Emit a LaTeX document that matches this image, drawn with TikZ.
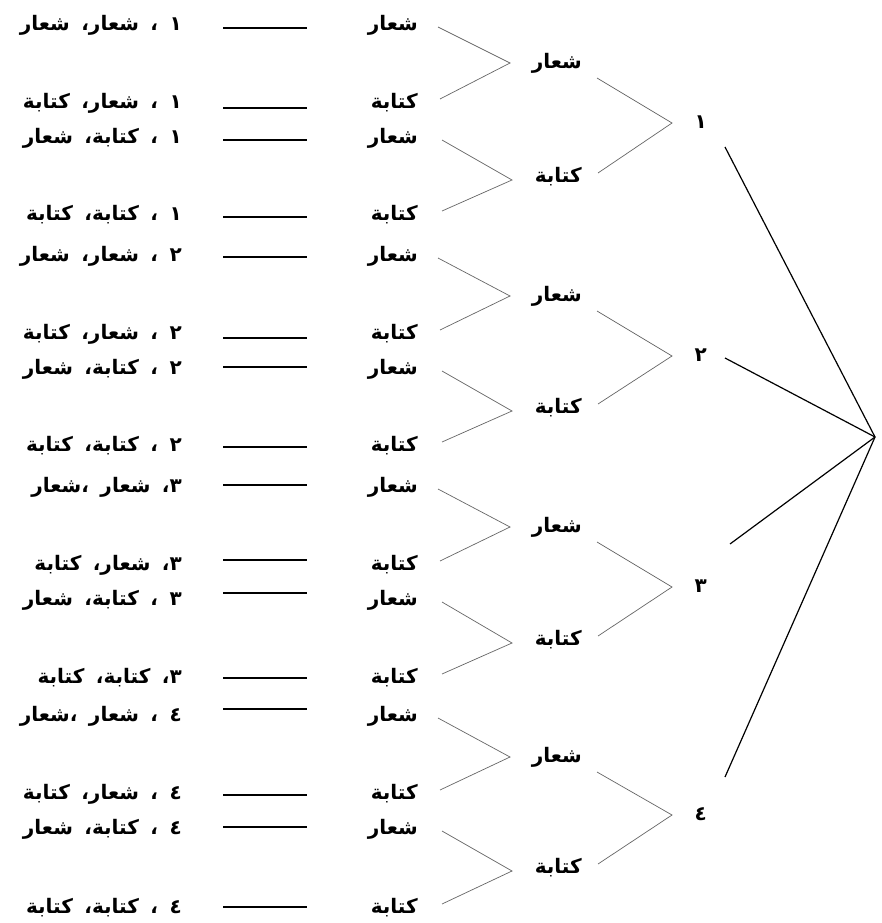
\documentclass[tikz,border=0pt]{standalone}
\usepackage{fontspec}
\TeXXeTstate=1
\newfontfamily\arabicfont[Script=Arabic]{DejaVu Sans}
\newcommand\rl[1]{\beginR #1\endR}
\newcommand\rlw[1]{\spaceskip=11.5pt\relax\beginR #1\endR}
\begin{document}
\begin{tikzpicture}[x=1pt,y=-1pt,
  ar/.style={font=\arabicfont\bfseries\fontsize{20}{24}\selectfont, inner sep=0pt, anchor=east},
  res/.style={ar},
  thinln/.style={draw=black!60, line width=0.7pt},
  thickln/.style={draw=black, line width=1.2pt}]
\useasboundingbox (0,0) rectangle (881,923);
\fill[white] (0,0) rectangle (881,923);
\coordinate (R) at (875,437);
% ---------- group 1
\node[ar] (L11) at (418,25)  {\rl{شعار}};
\node[ar] (L12) at (418,103) {\rl{كتابة}};
\node[ar] (L13) at (418,138) {\rl{شعار}};
\node[ar] (L14) at (418,215) {\rl{كتابة}};
\node[ar] (M11) at (582,63)  {\rl{شعار}};
\node[ar] (M12) at (582,177) {\rl{كتابة}};
\node[ar] (N1)  at (707,122) {\rl{١}};
\node[res] (T11) at (182,25)  {\rlw{١ ، شعار، شعار}};
\node[res] (T12) at (182,103) {\rlw{١ ، شعار، كتابة}};
\node[res] (T13) at (182,138) {\rlw{١ ، كتابة، شعار}};
\node[res] (T14) at (182,215) {\rlw{١ ، كتابة، كتابة}};
% ---------- group 2
\node[ar] (L21) at (418,256) {\rl{شعار}};
\node[ar] (L22) at (418,334) {\rl{كتابة}};
\node[ar] (L23) at (418,369) {\rl{شعار}};
\node[ar] (L24) at (418,446) {\rl{كتابة}};
\node[ar] (M21) at (582,296) {\rl{شعار}};
\node[ar] (M22) at (582,408) {\rl{كتابة}};
\node[ar] (N2)  at (707,355) {\rl{٢}};
\node[res] (T21) at (182,256) {\rlw{٢ ، شعار، شعار}};
\node[res] (T22) at (182,334) {\rlw{٢ ، شعار، كتابة}};
\node[res] (T23) at (182,369) {\rlw{٢ ، كتابة، شعار}};
\node[res] (T24) at (182,446) {\rlw{٢ ، كتابة، كتابة}};
% ---------- group 3
\node[ar] (L31) at (418,487) {\rl{شعار}};
\node[ar] (L32) at (418,565) {\rl{كتابة}};
\node[ar] (L33) at (418,600) {\rl{شعار}};
\node[ar] (L34) at (418,678) {\rl{كتابة}};
\node[ar] (M31) at (582,527) {\rl{شعار}};
\node[ar] (M32) at (582,640) {\rl{كتابة}};
\node[ar] (N3)  at (707,586) {\rl{٣}};
\node[res] (T31) at (182,487) {\rlw{٣، شعار ،شعار}};
\node[res] (T32) at (182,565) {\rlw{٣، شعار، كتابة}};
\node[res] (T33) at (182,600) {\rlw{٣ ، كتابة، شعار}};
\node[res] (T34) at (182,678) {\rlw{٣، كتابة، كتابة}};
% ---------- group 4
\node[ar] (L41) at (418,716) {\rl{شعار}};
\node[ar] (L42) at (418,794) {\rl{كتابة}};
\node[ar] (L43) at (418,829) {\rl{شعار}};
\node[ar] (L44) at (418,908) {\rl{كتابة}};
\node[ar] (M41) at (582,757) {\rl{شعار}};
\node[ar] (M42) at (582,868) {\rl{كتابة}};
\node[ar] (N4)  at (707,814) {\rl{٤}};
\node[res] (T41) at (182,716) {\rlw{٤ ، شعار ،شعار}};
\node[res] (T42) at (182,794) {\rlw{٤ ، شعار، كتابة}};
\node[res] (T43) at (182,829) {\rlw{٤ ، كتابة، شعار}};
\node[res] (T44) at (182,908) {\rlw{٤ ، كتابة، كتابة}};
% ---------- dashes
\foreach \n/\yy in {11/28,12/108,13/140,14/217,21/257,22/338,23/367,24/447,
                    31/485,32/560,33/593,34/678,41/709,42/795,43/827,44/907}{
  \coordinate (D\n a) at (223,\yy);
  \coordinate (D\n b) at (307,\yy);
  \draw[thickln] (D\n a) -- (D\n b);
}
% ---------- tree connectors
\foreach \g in {1,2,3,4}{
  \draw[thinln] ([shift={(20,2)}]L\g1.east) -- ([xshift=-72]M\g1.east) -- ([shift={(22,-4)}]L\g2.east);
  \draw[thinln] ([shift={(24,2)}]L\g3.east) -- ([shift={(-70,3)}]M\g2.east) -- ([shift={(24,-4)}]L\g4.east);
  \draw[thinln] ([shift={(15,15)}]M\g1.east) -- ([shift={(-35,1)}]N\g.east) -- ([shift={(16,-4)}]M\g2.east);
}
\draw[thickln] ([shift={(18,25)}]N1.east) -- (R);
\draw[thickln] ([shift={(18,3)}]N2.east) -- (R);
\draw[thickln] ([shift={(23,-42)}]N3.east) -- (R);
\draw[thickln] ([shift={(18,-37)}]N4.east) -- (R);
\end{tikzpicture}
\end{document}
